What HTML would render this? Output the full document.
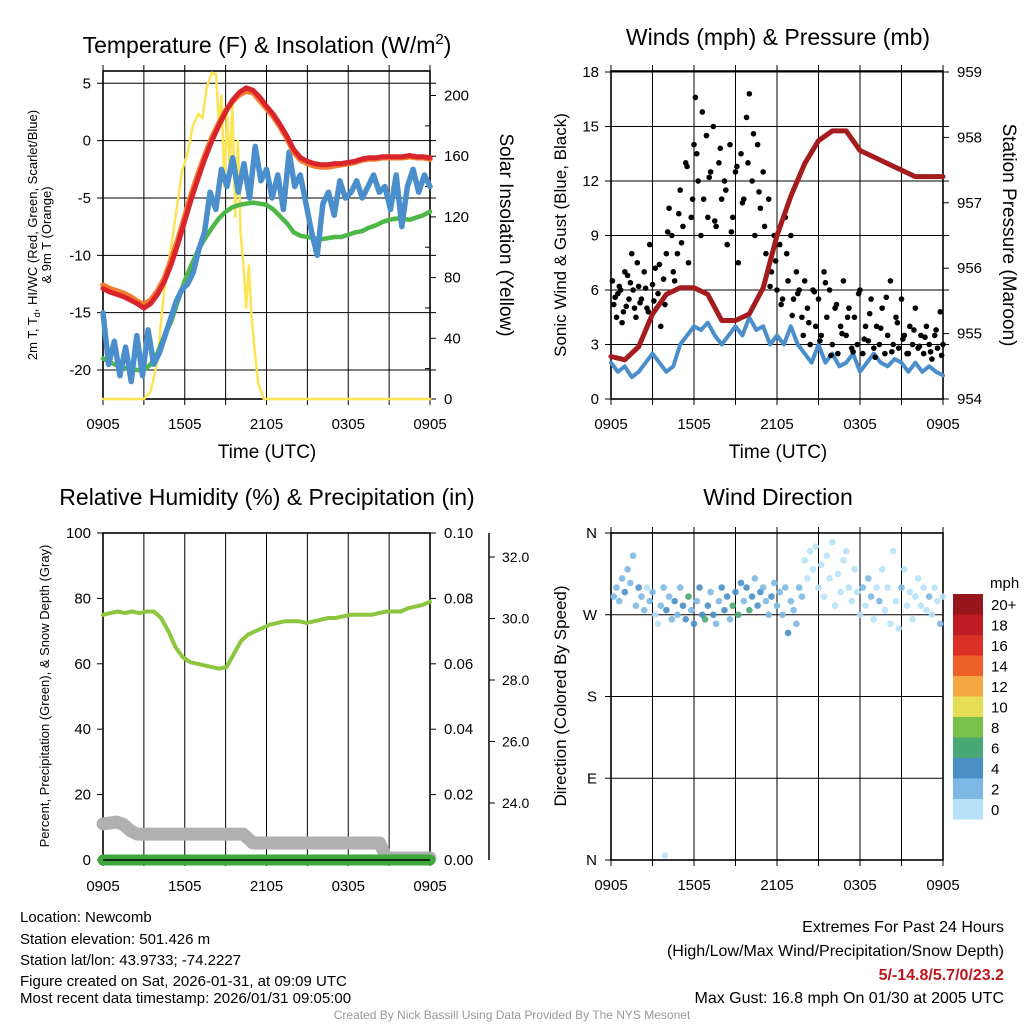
<!DOCTYPE html>
<html><head><meta charset="utf-8"><style>
body{margin:0;background:#fff;}
svg{display:block;font-family:"Liberation Sans",Arial,sans-serif;}
</style></head><body>
<svg id="c" width="1024" height="1024" viewBox="0 0 1024 1024">
<rect width="1024" height="1024" fill="#fff"/>
<g id="g1"></g>
<g id="g2"></g>
<g id="g3"></g>
<g id="g4"></g>
<text x="267" y="53" font-size="23" text-anchor="middle">Temperature (F) &amp; Insolation (W/m<tspan dy="-9" font-size="15">2</tspan><tspan dy="9">)</tspan></text>
<text x="778" y="45" font-size="23" text-anchor="middle">Winds (mph) &amp; Pressure (mb)</text>
<text x="267" y="505" font-size="23" text-anchor="middle">Relative Humidity (%) &amp; Precipitation (in)</text>
<text x="778" y="505" font-size="23" text-anchor="middle">Wind Direction</text>
<text transform="translate(37,235) rotate(-90)" font-size="13" text-anchor="middle">2m T, T<tspan font-size="9" dy="3">d</tspan><tspan dy="-3">, HI/WC (Red, Green, Scarlet/Blue)</tspan></text>
<text transform="translate(51,235) rotate(-90)" font-size="13" text-anchor="middle">&amp; 9m T (Orange)</text>
<text transform="translate(500,235) rotate(90)" font-size="19" text-anchor="middle">Solar Insolation (Yellow)</text>
<text transform="translate(566,235) rotate(-90)" font-size="17" text-anchor="middle">Sonic Wind &amp; Gust (Blue, Black)</text>
<text transform="translate(1003,235) rotate(90)" font-size="19" text-anchor="middle">Station Pressure (Maroon)</text>
<text transform="translate(49,696) rotate(-90)" font-size="13" text-anchor="middle">Percent, Precipitation (Green), &amp; Snow Depth (Gray)</text>
<text transform="translate(566,696) rotate(-90)" font-size="17" text-anchor="middle">Direction (Colored By Speed)</text>
<text x="267" y="458" font-size="19" text-anchor="middle">Time (UTC)</text>
<text x="778" y="458" font-size="19" text-anchor="middle">Time (UTC)</text>
<g font-size="15">
<text x="20" y="922">Location: Newcomb</text>
<text x="20" y="944">Station elevation: 501.426 m</text>
<text x="20" y="965">Station lat/lon: 43.9733; -74.2227</text>
<text x="20" y="986">Figure created on Sat, 2026-01-31, at 09:09 UTC</text>
<text x="20" y="1003">Most recent data timestamp: 2026/01/31 09:05:00</text>
</g>
<g font-size="16" text-anchor="end">
<text x="1004" y="932">Extremes For Past 24 Hours</text>
<text x="1004" y="956">(High/Low/Max Wind/Precipitation/Snow Depth)</text>
<text x="1004" y="980" fill="#c0161e" font-weight="bold">5/-14.8/5.7/0/23.2</text>
<text x="1004" y="1003">Max Gust: 16.8 mph On 01/30 at 2005 UTC</text>
</g>
<text x="512" y="1019" font-size="12" fill="#999" text-anchor="middle">Created By Nick Bassill Using Data Provided By The NYS Mesonet</text>
</svg>
<script>
// ---- data ----
const xTickLabels=["0905","1505","2105","0305","0905"];
const tempTicks=[5,0,-5,-10,-15,-20];
const solarTicks=[0,40,80,120,160,200];
const tempRed=[-12.9,-13.2,-13.4,-13.6,-13.9,-14.2,-14.6,-14.2,-13.4,-12.3,-10.8,-9,-7,-5,-3.2,-1.5,0,1.3,2.5,3.5,4.2,4.6,4.4,3.8,3,2.3,1.4,0.4,-0.8,-1.5,-1.8,-2,-2.1,-2.1,-2,-2,-1.9,-1.8,-1.6,-1.5,-1.5,-1.4,-1.4,-1.4,-1.4,-1.3,-1.4,-1.4,-1.5];
const tempOrange=[-12.6,-12.9,-13.1,-13.3,-13.6,-14,-14.3,-13.9,-13.1,-12,-10.4,-8.6,-6.6,-4.6,-2.8,-1.2,0.3,1.5,2.6,3.4,4,4.3,4.2,3.5,2.8,2.1,1.2,0.2,-1,-1.7,-2,-2.2,-2.3,-2.3,-2.2,-2.1,-2,-1.9,-1.7,-1.6,-1.6,-1.5,-1.5,-1.5,-1.5,-1.4,-1.5,-1.5,-1.6];
const tempGreen=[-19,-19.3,-19.6,-19.8,-19.9,-20,-20,-19.5,-18.5,-17,-15.8,-14,-12.2,-10.8,-9.5,-8.5,-7.6,-6.8,-6.2,-5.8,-5.6,-5.5,-5.4,-5.5,-5.6,-6,-6.6,-7.2,-8,-8.3,-8.4,-8.5,-8.6,-8.5,-8.4,-8.4,-8.2,-8,-7.9,-7.6,-7.4,-7.1,-6.9,-6.8,-6.8,-6.9,-6.7,-6.5,-6.2];
const tempBlue=[-15,-19.5,-17.5,-20.5,-18,-21,-17,-20.5,-16.5,-19.5,-18.5,-17,-15.5,-14,-13,-12.5,-11.5,-9.5,-8,-4.5,-6,-2.5,-4,-1.5,-4.5,-2,-5,-0.5,-3.5,-2.5,-5,-3,-6,-1,-4,-3,-5.5,-8,-10,-5.5,-4.5,-6.5,-3.5,-5,-4.5,-3.5,-5,-4,-3,-4.5,-4,-6,-3,-7.5,-4,-2.5,-4.5,-3,-4];
const solarH=[0,3,3.5,4,4.3,4.6,5,5.4,5.8,6.2,6.6,7,7.3,7.6,8,8.3,8.5,8.7,8.9,9.1,9.3,9.5,9.7,9.9,10.1,10.3,10.5,10.7,10.9,11.1,11.4,11.8,24];
const solarV=[0,0,5,25,55,80,100,125,150,162,180,188,185,205,215,214,180,200,140,190,150,195,120,170,110,90,60,88,55,35,10,0,0];
const windTicks=[0,3,6,9,12,15,18];
const presTicks=[954,955,956,957,958,959];
const sonicWind=[2,1.5,1.8,1.2,1.5,2,2.5,2,1.5,1.8,3,3.5,4,3.8,4.2,3.5,3,3.5,4,3.5,4.5,3.8,4,3,3.5,3,4,3,2.5,2,3,2,2.5,1.8,2,2.5,1.5,2,2.5,2,1.8,2.2,2,1.5,2,1.5,1.8,1.5,1.3];
const gustH=[0.1,0.2,0.4,0.5,0.7,0.9,1,1.2,1.3,1.5,1.6,1.8,2,2.2,2.4,2.6,2.8,3,3.2,3.4,3.6,3.8,4,4.2,4.4,4.6,4.8,5,5.2,5.4,5.6,5.8,6,6.1,6.3,6.5,6.7,6.9,7,7.2,7.4,7.6,7.8,8,8.2,8.4,8.6,8.8,9,9.2,9.4,9.6,9.8,10,10.2,10.4,10.6,10.8,11,11.2,11.4,11.6,11.8,12,12.2,12.4,12.6,12.8,13,13.2,13.4,13.6,13.8,14,14.2,14.4,14.6,14.8,15,15.2,15.4,15.6,15.8,16,16.2,16.4,16.6,16.8,17,17.2,17.4,17.6,17.8,18,18.2,18.4,18.6,18.8,19,19.2,19.4,19.6,19.8,20,20.2,20.4,20.6,20.8,21,21.2,21.4,21.6,21.8,22,22.2,22.4,22.6,22.8,23,23.2,23.4,23.6,23.8,24,
0.3,0.6,0.8,1.1,1.4,1.7,1.9,2.1,2.5,2.7,3.1,3.5,3.9,4.1,4.5,4.9,5.1,5.5,5.9,6.2,6.6,7.1,7.5,7.9,8.3,8.7,9.1,9.5,9.9,10.3,10.7,11.1,11.5,11.9,12.3,12.7,13.1,13.5,13.9,14.3,14.7,15.1,15.5,15.9,16.3,16.7,17.1,17.5,17.9,18.3,18.7,19.1,19.5,19.9,20.3,20.7,21.1,21.5,21.9,22.3,22.7,23.1,23.5,23.9];
const gustV=[6.5,5.2,4.5,5.8,6,4.8,7,6.8,5.5,8,6,4.5,6.2,5.5,7,5,8.5,6.3,7.2,5.8,4,6.6,8,10.5,9,6.5,8,11.5,9.5,13,7.5,10,14,16.6,12,9,11,14.5,10,12.5,15,9.5,13,11,12,8.5,14,10,12.5,7.5,13.5,11,15.5,16.8,12,9,14,10.5,12.5,8,11,7,9,6,8.5,5.5,10,6.5,9,5.5,7,6,4.5,6.5,5,3,6,4,5.5,3.5,7,4.5,6,3,5,2.5,4,6.5,3.5,5,2.8,4.5,3,6,2.5,4,3.2,5.5,2.8,4,3,5,2.5,3.5,6.5,3,4.5,2.8,5.5,3.5,2.5,4,3,5,2.8,3.5,2.5,4,3,2.2,3.5,2.8,4.8,3,
5.6,6.2,4.2,5.1,6.4,5,7.5,5.3,6.1,4.8,5.4,7.4,5.2,9.2,7,10.2,8.6,12.8,11,13.5,15.8,12.2,9.8,13.8,11.5,9.2,12.8,10.8,13,14.6,11.4,9.5,6.2,7.6,5.2,8,4.6,5.8,3.5,4.2,5.9,3.2,6.4,2.4,5.2,3.6,4.5,2.6,5.8,3.3,4.7,2.3,3.9,5.6,2.6,4.2,3.3,2.5,3.8,2.9,3.4,2.6,3.8,2.4];
const pressure=[954.65,954.6,954.8,955.3,955.6,955.7,955.7,955.6,955.2,955.2,955.3,955.7,956.5,957.1,957.6,957.95,958.1,958.1,957.8,957.7,957.6,957.5,957.4,957.4,957.4];
const rhTicks=[0,20,40,60,80,100];
const precipTicks=["0.00","0.02","0.04","0.06","0.08","0.10"];
const snowTicks=[24,26,28,30,32];
const rh=[75,75.5,76,75.5,76,75.5,76,76,74,70,65,62,60.5,60,59.5,59,58.5,59,63,67,69,70,71,72,72.5,73,73,73,72.5,73,73.5,74,74,74.5,75,75,75,75,75.5,76,76,76,77,77.5,78,79];
const snowH=[0,1,1.5,2,2.5,10.3,11,20.3,20.8,24];
const snowV=[23.32,23.38,23.3,23.1,22.99,22.99,22.70,22.70,22.21,22.21];
const precip=[0,0];
const dirLabels=["N","W","S","E","N"];
const dirH=[0.2,0.4,0.6,0.8,1,1.2,1.4,1.6,1.8,2,2.2,2.4,2.6,2.8,3,3.2,3.4,3.6,3.8,4,4.2,4.4,4.6,4.8,5,5.2,5.4,5.6,5.8,6,6.2,6.4,6.6,6.8,7,7.2,7.4,7.6,7.8,8,8.2,8.4,8.6,8.8,9,9.2,9.4,9.6,9.8,10,10.2,10.4,10.6,10.8,11,11.2,11.4,11.6,11.8,12,12.2,12.4,12.6,12.8,13,13.2,13.4,13.6,13.8,14,14.2,14.4,14.6,14.8,15,15.2,15.4,15.6,15.8,16,16.2,16.4,16.6,16.8,17,17.2,17.4,17.6,17.8,18,18.2,18.4,18.6,18.8,19,19.2,19.4,19.6,19.8,20,20.2,20.4,20.6,20.8,21,21.2,21.4,21.6,21.8,22,22.2,22.4,22.6,22.8,23,23.2,23.4,23.6,23.8,24,3.9];
const dirV=[290,300,285,310,295,320,305,335,280,300,290,275,300,285,295,270,260,280,300,275,290,265,285,270,300,280,265,290,275,260,285,300,270,265,280,295,270,260,285,300,275,290,265,280,295,270,305,285,300,275,290,310,280,295,300,285,270,290,305,280,295,270,300,250,285,275,260,300,290,330,310,340,320,345,300,325,290,335,310,350,280,315,295,330,340,300,285,320,295,270,300,280,310,290,265,300,285,320,275,300,260,340,285,255,300,320,280,295,265,290,310,280,300,275,290,270,300,285,260,290,5];
const dirSpd=[3.5,3.5,2.5,3.5,4.5,3.5,2.5,2.5,3.5,4.5,3.5,2.5,1.5,3.5,2.5,1.5,1.5,2.5,3.5,4.5,2.5,3.5,4.5,3.5,3.5,4.5,4.5,6.5,3.5,4.5,2.5,4.5,4.5,6.5,4.5,3.5,4.5,3.5,3.5,4.5,4.5,4.5,3.5,6.5,4.5,6.5,4.5,3.5,4.5,6.5,4.5,3.5,4.5,4.5,3.5,3.5,3.5,4.5,3.5,2.5,3.5,3.5,2.5,4.5,2.5,2.5,3.5,2.5,2.5,1.5,1.5,1.5,1.5,1.5,1.5,0.5,1.5,1.5,0.5,1.5,1.5,0.5,1.5,0.5,0.5,1.5,0.5,1.5,1.5,1.5,2.5,1.5,2.5,2.5,1.5,1.5,2.5,1.5,0.5,1.5,1.5,1.5,1.5,1.5,2.5,1.5,1.5,1.5,1.5,1.5,1.5,1.5,1.5,1.5,2.5,1.5,1.5,1.5,2.5,1.5,1.5];
const cbLabels=["20+","18","16","14","12","10","8","6","4","2","0"];
const cbColors=["#96161c","#bd1c24","#db3128","#ef6129","#f6a743","#e6df55","#7bc24b","#48a772","#4a8fc6","#7db9e4","#b7e2f7"];

// ---- helpers ----
const NS="http://www.w3.org/2000/svg";
function mk(parent,tag,attrs){const e=document.createElementNS(NS,tag);for(const k in attrs)e.setAttribute(k,attrs[k]);parent.appendChild(e);return e;}
function axisX(x0,x1){return h=>x0+(x1-x0)*h/24;}
function lin(d0,d1,p0,p1){return v=>p0+(v-d0)*(p1-p0)/(d1-d0);}
function pathFrom(xs,ys){return xs.map((x,i)=>(i?"L":"M")+x.toFixed(1)+","+ys[i].toFixed(1)).join("");}
function frame(g,x0,x1,y0,y1,name){
  for(let i=0;i<=8;i++){const x=x0+(x1-x0)*i/8;
    const l=mk(g,"line",{x1:x,x2:x,y1:y0-6,y2:y1+6,stroke:"#000","stroke-width":1});
    
    }
  xTickLabels.forEach((t,i)=>{const x=x0+(x1-x0)*i/4;
    const e=mk(g,"text",{x:x,y:y1+30,"font-size":15,"text-anchor":"middle"});e.textContent=t;
    
    });
  const r=mk(g,"rect",{x:x0,y:y0,width:x1-x0,height:y1-y0,fill:"none",stroke:"#000","stroke-width":1.6});
  
  
}
function hgrid(g,x0,x1,y,label){
  const l=mk(g,"line",{x1:x0-6,x2:x1+6,y1:y,y2:y,stroke:"#000","stroke-width":1});
  
  
  const e=mk(g,"text",{x:x0-12,y:y+5,"font-size":15,"text-anchor":"end"});e.textContent=label;
  
  
}
function rlabel(g,x,y,label){
  mk(g,"line",{x1:x,x2:x+6,y1:y,y2:y,stroke:"#000"});
  const e=mk(g,"text",{x:x+14,y:y+5,"font-size":15});e.textContent=label;
  
  
}
function line(g,xs,ys,color,w,name){
  const p=mk(g,"path",{d:pathFrom(xs,ys),fill:"none",stroke:color,"stroke-width":w,"stroke-linejoin":"round","stroke-linecap":"round"});
  
  
  return p;
}
const evenH=arr=>arr.map((_,i)=>i*24/(arr.length-1));

// ---- panel 1 ----
(function(){
  const g=document.getElementById("g1");const x0=103,x1=430,y0=71,y1=399;
  const X=axisX(x0,x1);const T=lin(5,-20,83.3,370);const S=lin(0,200,399,95.5);
  tempTicks.forEach(t=>hgrid(g,x0,x1,T(t),String(t)));
  solarTicks.forEach(s=>rlabel(g,x1,S(s),String(s)));
  for(let s=20;s<=200;s+=40){mk(g,"line",{x1:x1-5,x2:x1,y1:S(s),y2:S(s),stroke:"#000"});}
  frame(g,x0,x1,y0,y1,"temperature");
  line(g,solarH.map(X),solarV.map(S),"#fde454",2.5,"solar-line");
  line(g,evenH(tempGreen).map(X),tempGreen.map(T),"#4db848",4.5,"dewpoint-line");
  line(g,evenH(tempBlue).map(X),tempBlue.map(T),"#4a8fcc",5.5,"windchill-line");
  line(g,evenH(tempOrange).map(X),tempOrange.map(T),"#f47c30",5.5,"9m-temp-line");
  line(g,evenH(tempRed).map(X),tempRed.map(T),"#d8242a",5,"2m-temp-line");
})();

// ---- panel 2 ----
(function(){
  const g=document.getElementById("g2");const x0=611,x1=943,y0=71,y1=399;
  const X=axisX(x0,x1);const W=lin(0,18,399,72);const P=lin(954,959,399,72);
  windTicks.forEach(t=>hgrid(g,x0,x1,W(t),String(t)));
  presTicks.forEach(p=>rlabel(g,x1,P(p),String(p)));
  frame(g,x0,x1,y0,y1,"wind");
  line(g,evenH(sonicWind).map(X),sonicWind.map(W),"#4a8fcc",4,"sonic-wind-line");
  gustH.forEach((h,i)=>{const c=mk(g,"circle",{cx:X(h),cy:W(gustV[i]),r:2.8,fill:"#000"});
    
    });
  line(g,evenH(pressure).map(X),pressure.map(P),"#a51c1f",5,"pressure-line");
})();

// ---- panel 3 ----
(function(){
  const g=document.getElementById("g3");const x0=103,x1=430,y0=533,y1=860;
  const X=axisX(x0,x1);const R=lin(0,100,860,533);const SN=lin(24,32,803,557);
  rhTicks.forEach(t=>{const y=R(t);
    const e=mk(g,"text",{x:x0-12,y:y+5,"font-size":15,"text-anchor":"end"});e.textContent=String(t);
    
    
    mk(g,"line",{x1:x0-6,x2:x0,y1:y,y2:y,stroke:"#000"});});
  precipTicks.forEach((t,i)=>rlabel(g,x1,R(i*20),t));
  const ax=mk(g,"line",{x1:489,x2:489,y1:533,y2:860,stroke:"#000","stroke-width":1.5});
  
  
  snowTicks.forEach(s=>{const y=SN(s);mk(g,"line",{x1:489,x2:495,y1:y,y2:y,stroke:"#000"});
    const e=mk(g,"text",{x:502,y:y+5,"font-size":14});e.textContent=s.toFixed(1);
    
    });
  for(let i=0;i<=8;i++){const x=x0+(x1-x0)*i/8;mk(g,"line",{x1:x,x2:x,y1:y0,y2:y1+6,stroke:"#000"});}
  xTickLabels.forEach((t,i)=>{const e=mk(g,"text",{x:x0+(x1-x0)*i/4,y:y1+31,"font-size":15,"text-anchor":"middle"});e.textContent=t;
    
    });
  const r=mk(g,"rect",{x:x0,y:y0,width:x1-x0,height:y1-y0,fill:"none",stroke:"#000","stroke-width":1.6});
  
  
  line(g,snowH.map(X),snowV.map(SN),"#b0b0b0",13,"snow-depth-line");
  line(g,[0,24].map(X),precip.map(v=>R(v*1000)),"#3ea83d",11,"precip-line");
  mk(g,"line",{x1:x0,x2:x1,y1:y1,y2:y1,stroke:"#000","stroke-width":1.5});
  line(g,evenH(rh).map(X),rh.map(R),"#8cc63f",4,"rh-line");
})();

// ---- panel 4 ----
(function(){
  const g=document.getElementById("g4");const x0=611,x1=943,y0=533,y1=860;
  const X=axisX(x0,x1);const D=lin(0,360,860,533);
  dirLabels.forEach((t,i)=>{const y=D(360-i*90);
    const l=mk(g,"line",{x1:x0-6,x2:x1,y1:y,y2:y,stroke:"#000"});
    
    
    const e=mk(g,"text",{x:x0-14,y:y+5,"font-size":15,"text-anchor":"end"});e.textContent=t;
    
    });
  frame(g,x0,x1,y0,y1,"wind-direction");
  dirH.forEach((h,i)=>{const bin=Math.min(10,Math.floor(dirSpd[i]/2));
    const c=mk(g,"circle",{cx:X(h),cy:D(dirV[i]),r:3.3,fill:cbColors[10-bin],opacity:0.9});
    
    });
  const t=mk(g,"text",{x:990,y:588,"font-size":15});t.textContent="mph";
  
  
  cbLabels.forEach((lab,i)=>{const y=594+i*20.5;
    const b=mk(g,"rect",{x:953,y:y,width:30,height:20.5,fill:cbColors[i]});
    
    
    const e=mk(g,"text",{x:991,y:y+16,"font-size":15});e.textContent=lab;
    
    });
})();
</script>
</body></html>
